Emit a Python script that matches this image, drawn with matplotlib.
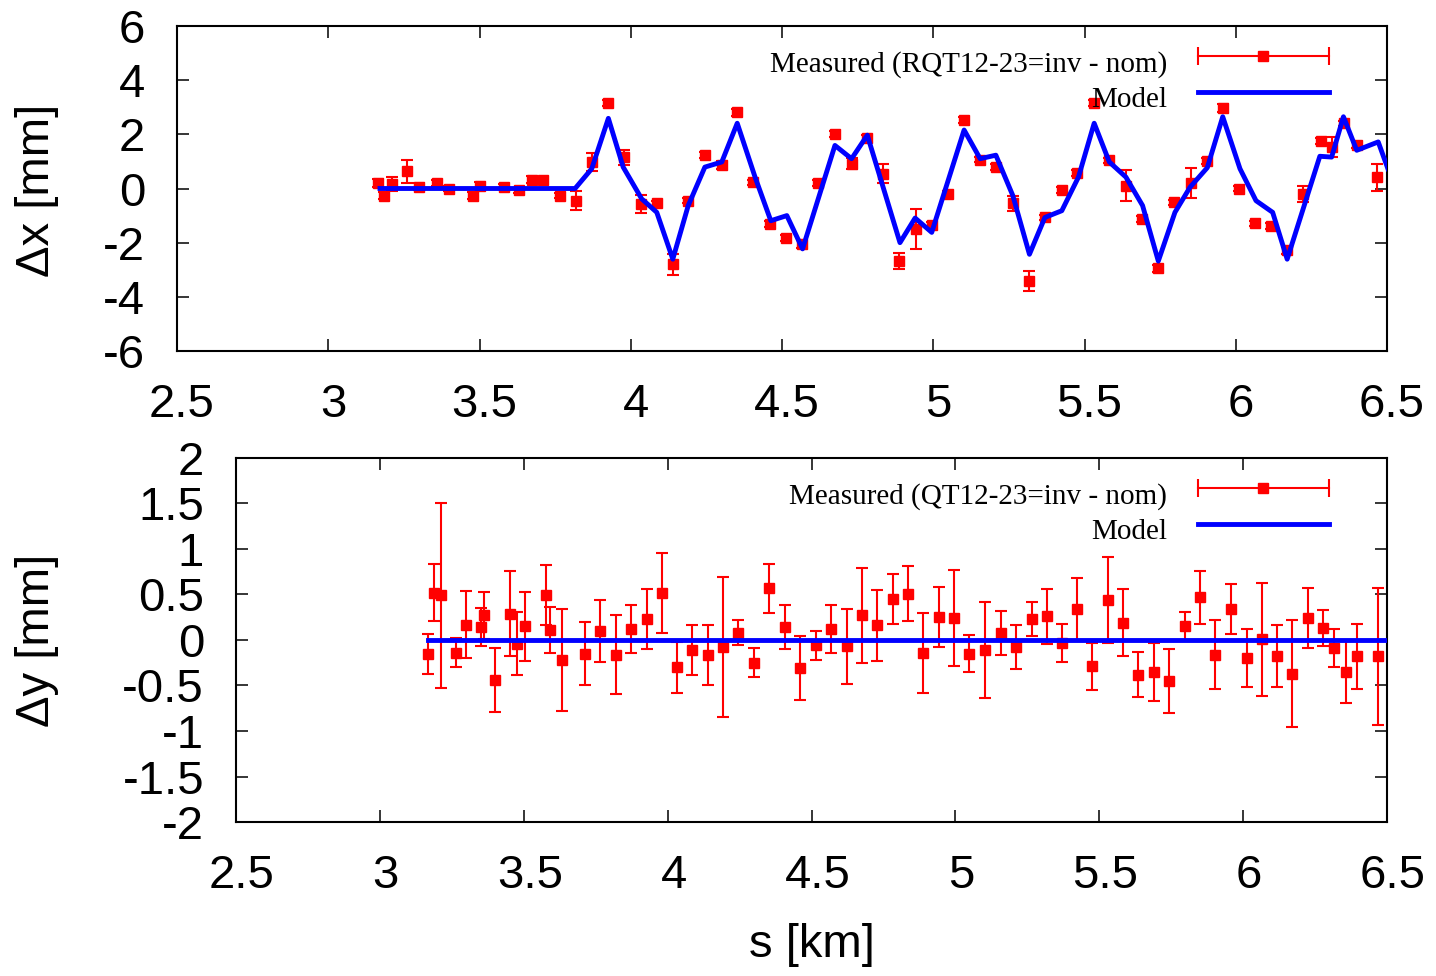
import matplotlib
matplotlib.use("Agg")
import matplotlib.pyplot as plt
from matplotlib.lines import Line2D
from matplotlib.legend_handler import HandlerBase
from matplotlib.ticker import MultipleLocator, FormatStrFormatter
from matplotlib.transforms import ScaledTranslation

plt.rcParams['axes.unicode_minus'] = False

# horizontal plane: measured (s, dx, error) and model
s_x = [3.166, 3.184, 3.212, 3.261, 3.300, 3.358, 3.400, 3.477, 3.502, 3.581,
       3.632, 3.673, 3.711, 3.766, 3.819, 3.873, 3.926, 3.979, 4.034, 4.086,
       4.139, 4.190, 4.245, 4.301, 4.352, 4.405, 4.460, 4.513, 4.565, 4.618,
       4.675, 4.730, 4.782, 4.835, 4.888, 4.942, 4.995, 5.050, 5.102, 5.155,
       5.207, 5.263, 5.318, 5.369, 5.425, 5.476, 5.532, 5.582, 5.637, 5.689,
       5.744, 5.796, 5.851, 5.904, 5.957, 6.011, 6.063, 6.115, 6.170, 6.223,
       6.281, 6.317, 6.358, 6.400, 6.466]
dx = [0.20, -0.26, 0.17, 0.64, 0.07, 0.20, 0.00, -0.26, 0.11, 0.07,
      -0.07, 0.33, 0.32, -0.26, -0.45, 0.98, 3.15, 1.16, -0.57, -0.55,
      -2.80, -0.45, 1.23, 0.86, 2.81, 0.23, -1.31, -1.83, -2.06, 0.20,
      2.01, 0.92, 1.85, 0.55, -2.68, -1.50, -1.34, -0.20, 2.53, 1.07,
      0.79, -0.55, -3.40, -1.07, -0.05, 0.57, 3.15, 1.04, 0.11, -1.13,
      -2.95, -0.51, 0.20, 1.02, 2.96, -0.01, -1.29, -1.38, -2.28, -0.20,
      1.76, 1.54, 2.41, 1.60, 0.42]
dx_err = [0.15, 0.12, 0.25, 0.43, 0.12, 0.10, 0.10, 0.12, 0.12, 0.10,
          0.10, 0.12, 0.12, 0.10, 0.34, 0.32, 0.12, 0.28, 0.34, 0.10,
          0.40, 0.10, 0.10, 0.15, 0.12, 0.10, 0.12, 0.10, 0.15, 0.10,
          0.10, 0.20, 0.12, 0.34, 0.29, 0.74, 0.10, 0.10, 0.10, 0.10,
          0.10, 0.28, 0.37, 0.10, 0.10, 0.10, 0.10, 0.10, 0.56, 0.10,
          0.12, 0.10, 0.54, 0.10, 0.15, 0.10, 0.10, 0.10, 0.12, 0.30,
          0.10, 0.37, 0.10, 0.10, 0.50]

s_model_x = [3.171, 3.816, 3.871, 3.926, 3.975, 4.036, 4.086, 4.139, 4.190, 4.245,
             4.301, 4.352, 4.411, 4.463, 4.516, 4.568, 4.675, 4.730, 4.782, 4.890,
             4.940, 4.995, 5.102, 5.155, 5.207, 5.263, 5.318, 5.369, 5.425, 5.480,
             5.532, 5.582, 5.637, 5.692, 5.744, 5.799, 5.849, 5.906, 5.957, 6.014,
             6.067, 6.122, 6.170, 6.278, 6.317, 6.356, 6.400, 6.471, 6.503]
model_x = [0.00, 0.00, 0.73, 2.59, 0.79, -0.38, -0.88, -2.61, -0.63, 0.79,
           0.98, 2.41, 0.42, -1.19, -1.00, -2.23, 1.59, 1.10, 1.97, -2.00,
           -1.09, -1.62, 2.16, 1.10, 1.23, -0.26, -2.43, -1.07, -0.82, 0.42,
           2.41, 0.98, 0.42, -0.63, -2.68, -0.88, 0.05, 0.77, 2.65, 0.73,
           -0.45, -0.88, -2.61, 1.19, 1.16, 2.65, 1.41, 1.72, 0.73]

# vertical plane
s_y = [3.168, 3.188, 3.212, 3.263, 3.299, 3.351, 3.362, 3.401, 3.452, 3.475,
       3.505, 3.577, 3.591, 3.634, 3.713, 3.765, 3.820, 3.873, 3.927, 3.981,
       4.034, 4.086, 4.139, 4.193, 4.246, 4.300, 4.353, 4.408, 4.460, 4.515,
       4.568, 4.622, 4.677, 4.729, 4.782, 4.836, 4.889, 4.943, 4.996, 5.048,
       5.103, 5.157, 5.209, 5.265, 5.317, 5.370, 5.424, 5.476, 5.532, 5.584,
       5.636, 5.691, 5.743, 5.798, 5.851, 5.902, 5.958, 6.012, 6.065, 6.119,
       6.171, 6.224, 6.279, 6.317, 6.357, 6.397, 6.470]
dy = [-0.15, 0.52, 0.49, -0.14, 0.17, 0.14, 0.27, -0.44, 0.29, -0.04,
      0.15, 0.49, 0.11, -0.22, -0.15, 0.10, -0.16, 0.12, 0.23, 0.52,
      -0.30, -0.11, -0.16, -0.08, 0.08, -0.25, 0.57, 0.14, -0.31, -0.06,
      0.12, -0.07, 0.27, 0.16, 0.45, 0.51, -0.14, 0.25, 0.24, -0.15,
      -0.11, 0.08, -0.08, 0.23, 0.26, -0.03, 0.34, -0.29, 0.44, 0.19,
      -0.38, -0.35, -0.45, 0.15, 0.47, -0.16, 0.34, -0.20, 0.01, -0.18,
      -0.37, 0.24, 0.13, -0.09, -0.35, -0.18, -0.18]
dy_err = [0.22, 0.31, 1.02, 0.16, 0.37, 0.21, 0.26, 0.35, 0.47, 0.35,
          0.38, 0.33, 0.25, 0.56, 0.35, 0.34, 0.43, 0.26, 0.33, 0.44,
          0.28, 0.27, 0.33, 0.77, 0.14, 0.16, 0.27, 0.24, 0.35, 0.16,
          0.26, 0.41, 0.52, 0.39, 0.27, 0.30, 0.44, 0.33, 0.53, 0.20,
          0.53, 0.24, 0.24, 0.19, 0.30, 0.21, 0.34, 0.26, 0.47, 0.37,
          0.25, 0.32, 0.35, 0.16, 0.29, 0.38, 0.27, 0.32, 0.62, 0.34,
          0.59, 0.33, 0.20, 0.21, 0.34, 0.36, 0.75]

s_model_y = [3.168, 6.503]
model_y = [0.0, 0.0]

labels_x = ['Measured (RQT12-23=inv - nom)', 'Model']
labels_y = ['Measured (QT12-23=inv - nom)', 'Model']

RED = '#ff0000'
BLUE = '#0000ff'
SANS = 'Liberation Sans'
SERIF = 'Liberation Serif'


class GnuErrHandler(HandlerBase):
    # gnuplot-like key sample: horizontal bar with caps and a square in the middle
    def create_artists(self, legend, orig_handle, xdescent, ydescent,
                       width, height, fontsize, trans):
        y = height / 2 - ydescent
        x0, x1 = -xdescent, width - xdescent
        bar = Line2D([x0, x1], [y, y], color=RED, lw=1.5)
        caps = Line2D([x0, x1], [y, y], ls='', marker='|', ms=13, mew=1.5, color=RED)
        sq = Line2D([(x0 + x1) / 2], [y], ls='', marker='s', ms=7.5, color=RED)
        for a in (bar, caps, sq):
            a.set_transform(trans)
        return [bar, caps, sq]


fig = plt.figure(figsize=(14.36, 9.76), dpi=100)
W, H = 1436.0, 976.0
ax1 = fig.add_axes([177 / W, 1 - 351 / H, 1210 / W, 325 / H])
ax2 = fig.add_axes([236 / W, 1 - 822 / H, 1151 / W, 364 / H])


def style(ax, ylo, yhi, ystep, xshift):
    ax.set_xlim(2.5, 6.5)
    ax.set_ylim(ylo, yhi)
    ax.xaxis.set_major_locator(MultipleLocator(0.5))
    ax.yaxis.set_major_locator(MultipleLocator(ystep))
    ax.xaxis.set_major_formatter(FormatStrFormatter('%g'))
    ax.yaxis.set_major_formatter(FormatStrFormatter('%g'))
    ax.tick_params(direction='in', length=8.5, width=1.1, top=True, right=True,
                   labelsize=34)
    ax.tick_params(axis='x', pad=23)
    ax.tick_params(axis='y', pad=23)
    for lab in ax.get_xticklabels() + ax.get_yticklabels():
        lab.set_fontfamily(SANS)
    # gnuplot places the x tick labels a few pixels right of the tick
    off = ScaledTranslation(xshift / 100.0, 0, fig.dpi_scale_trans)
    for lab in ax.get_xticklabels():
        lab.set_transform(lab.get_transform() + off)
    for sp in ax.spines.values():
        sp.set_linewidth(1.5)


style(ax1, -6, 6, 2, 5)
style(ax2, -2, 2, 0.5, 6)

legend_kw = dict(loc='upper right', bbox_transform=fig.transFigure, frameon=False,
                 markerfirst=False, prop={'family': SERIF, 'size': 21},
                 handlelength=4.5, handletextpad=1.05, borderpad=0,
                 borderaxespad=0, labelspacing=0.3)

# top panel
e1 = ax1.errorbar(s_x, dx, yerr=dx_err, fmt='s', color=RED, ms=7.5, elinewidth=1.5,
                  capsize=4.5, capthick=1.5, zorder=3)
m1, = ax1.plot(s_model_x, model_x, color=BLUE, lw=3.5, zorder=4)
leg1 = ax1.legend([e1, m1], labels_x, handler_map={type(e1): GnuErrHandler()},
                  bbox_to_anchor=(1329 / W, 1 - 46 / H), **legend_kw)

# bottom panel
e2 = ax2.errorbar(s_y, dy, yerr=dy_err, fmt='s', color=RED, ms=7.5, elinewidth=1.5,
                  capsize=4.5, capthick=1.5, zorder=3)
m2, = ax2.plot(s_model_y, model_y, color=BLUE, lw=3.5, zorder=4)
leg2 = ax2.legend([e2, m2], labels_y, handler_map={type(e2): GnuErrHandler()},
                  bbox_to_anchor=(1329 / W, 1 - 478 / H), **legend_kw)

# key text sits a little lower than its sample in the original
down = ScaledTranslation(0, -5 / 100.0, fig.dpi_scale_trans)
for leg in (leg1, leg2):
    for t in leg.get_texts():
        t.set_transform(t.get_transform() + down)

ax1.set_ylabel('Δx [mm]', fontsize=34, family=SANS, va='center')
ax1.yaxis.set_label_coords(37 / W, 1 - 190 / H, transform=fig.transFigure)
ax2.set_ylabel('Δy [mm]', fontsize=34, family=SANS, va='center')
ax2.yaxis.set_label_coords(37 / W, 1 - 640 / H, transform=fig.transFigure)
ax2.set_xlabel('s [km]', fontsize=34, family=SANS, va='center')
ax2.xaxis.set_label_coords(812 / W, 1 - 945 / H, transform=fig.transFigure)

fig.savefig('out.png', dpi=100)
